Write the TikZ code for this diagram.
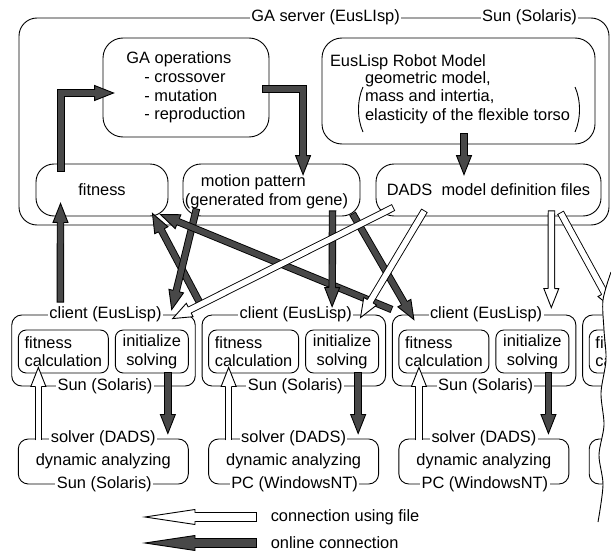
\documentclass[tikz,border=0pt]{standalone}
\usepackage{fontspec}
\setmainfont{Liberation Sans}
\usetikzlibrary{calc}
\definecolor{darkfill}{RGB}{72,72,72}
% sizes of the fat arrows
\newcommand\arrOut{7.4pt}
\newcommand\arrIn{5.6pt}
\newcommand\arrMid{3.25pt}
\newcommand\arrLen{19pt}
\newcommand\arrCut{18.5pt}
\newcommand\arrHalf{7.5pt}
% #1 fill, #2 shaft path, #3 point before tip, #4 tip
\newcommand\fatarrow[4]{%
  \draw[line width=\arrOut,shorten >=\arrCut] #2;
  \draw[line width=\arrIn,color=#1,shorten >=\arrCut,shorten <=0.9pt] #2;
  \fill[#1] let \p1=($(#4)-(#3)$), \n1={atan2(\y1,\x1)} in
    ($(#4)+(\n1:-\arrLen)+(\n1+90:\arrHalf)$) -- (#4) -- ($(#4)+(\n1:-\arrLen)+(\n1-90:\arrHalf)$) -- cycle;
  \draw let \p1=($(#4)-(#3)$), \n1={atan2(\y1,\x1)} in
    ($(#4)+(\n1:-\arrLen)+(\n1+90:\arrMid)$) -- ($(#4)+(\n1:-\arrLen)+(\n1+90:\arrHalf)$) -- (#4)
    -- ($(#4)+(\n1:-\arrLen)+(\n1-90:\arrHalf)$) -- ($(#4)+(\n1:-\arrLen)+(\n1-90:\arrMid)$);
}
\begin{document}
\begin{tikzpicture}[x=1pt,y=-1pt,line width=0.9pt,font=\fontsize{16.4}{18.6}\selectfont,
    box/.style={draw,rounded corners=#1,inner sep=0pt},
    box/.default=10pt,
    onwire/.style={fill=white,inner sep=1.5pt}]
  \useasboundingbox (0,0) rectangle (611,554);
  \fill[white] (0,0) rectangle (611,554);

  % GA server
  \node[box=18pt,minimum width=590pt,minimum height=207pt] (server) at (314,121.5) {};
  \node[onwire] (srvname) at ($(server.north west)+(307,0)$) {GA server (EusLIsp)};
  \node[onwire] (srvhost) at ($(server.north west)+(511,0)$) {Sun (Solaris)};

  \node[box=20pt,minimum width=166pt,minimum height=99pt,align=left] (gaop) at (186,87.5)
    {GA operations\\\hspace*{18pt}- crossover\\\hspace*{18pt}- mutation\\\hspace*{18pt}- reproduction};
  \node[box=20pt,minimum width=273pt,minimum height=106pt] (robot) at (458.5,91) {};
  \node[anchor=west,inner sep=0pt] (rmtitle) at ($(robot.north west)+(8,25)$) {EusLisp Robot Model};
  \node[anchor=west,inner sep=0pt,align=left] (rmitems) at ($(robot.north west)+(43,60)$)
    {geometric model,\\mass and intertia,\\elasticity of the flexible torso};
  \draw (363,87) .. controls (357,100) and (357,119) .. (363,132);
  \draw (575,87) .. controls (581,100) and (581,119) .. (575,132);

  \node[box=18pt,minimum width=132pt,minimum height=52pt] (fit) at (102,190) {fitness};
  \node[box=18pt,minimum width=177pt,minimum height=52pt] (motion) at (271.5,190) {};
  \node[align=left,inner sep=0pt] (mptext) at ($(motion)+(-5,2)$)
    {\hspace*{16pt}motion pattern\\(generated from gene)};
  \node[box=18pt,minimum width=225pt,minimum height=52pt] (dads) at (488.5,190) {DADS\ \ model definition files};

  % clients and solvers
  \foreach \i/\host in {1/Sun (Solaris),2/PC (WindowsNT),3/PC (WindowsNT)}{
    \pgfmathsetmacro\colx{(\i-1)*190.3}
    \node[box,minimum width=183.5pt,minimum height=71pt] (cl\i) at (103.5+\colx,350.5) {};
    \node[onwire] (ct\i) at ($(cl\i.north)+(2,0)$) {client (EusLisp)};
    \node[onwire] (cb\i) at ($(cl\i.south)+(1.5,0)$) {Sun (Solaris)};
    \node[box=8pt,minimum width=90pt,minimum height=43pt,align=left] (fc\i) at ($(cl\i.west)+(52,1)$) {fitness\\calculation};
    \node[box=8pt,minimum width=73pt,minimum height=43pt,align=center] (is\i) at ($(cl\i.west)+(140.5,1)$) {initialize\\solving};
    \node[box,minimum width=170pt,minimum height=45pt] (sv\i) at ($(cl\i.west)+(92,111)$) {dynamic analyzing};
    \node[onwire] (st\i) at (sv\i.north) {solver (DADS)};
    \node[onwire] (sb\i) at ($(sv\i.south)+(1,0)$) {\host};
  }
  % fourth column, torn off
  \node[box,minimum width=183.5pt,minimum height=71pt] (cl4) at (674.4,350.5) {};
  \node[box=8pt,minimum width=90pt,minimum height=43pt,align=left] (fc4) at ($(cl4.west)+(52,1)$) {fitness\\calculation};
  \node[box,minimum width=170pt,minimum height=45pt] (sv4) at ($(cl4.west)+(92,111)$) {};

  \foreach \i in {1,2,3}{
    \coordinate (fu\i) at ($(fc\i.south west)+(20.5,67)$);
    \coordinate (fut\i) at ($(fc\i.south west)+(20.5,-6)$);
    \fatarrow{white}{(fu\i) -- (fut\i)}{fu\i}{fut\i}
    \coordinate (sd\i) at ($(is\i.south west)+(53,-1)$);
    \coordinate (sdt\i) at ($(is\i.south west)+(53,60)$);
    \fatarrow{darkfill}{(sd\i) -- (sdt\i)}{sd\i}{sdt\i}
  }

  % links inside the server
  \coordinate (a1s) at ($(fit.north west)+(25.5,8)$);
  \coordinate (a1t) at ($(gaop.west)+(11,5.5)$);
  \coordinate (a1c) at (a1s |- a1t);
  \fatarrow{darkfill}{(a1s) |- (a1t)}{a1c}{a1t}
  \coordinate (a2s) at ($(gaop.east)+(-7,1.5)$);
  \coordinate (a2t) at ($(motion.north west)+(120.5,11)$);
  \coordinate (a2c) at (a2t |- a2s);
  \fatarrow{darkfill}{(a2s) -| (a2t)}{a2c}{a2t}
  \coordinate (a3s) at ($(robot.south)+(5.5,-11)$);
  \coordinate (a3t) at ($(a3s |- dads.north)+(0,11)$);
  \fatarrow{darkfill}{(a3s) -- (a3t)}{a3s}{a3t}

  % online links server <-> clients
  \coordinate (b1s) at ($(cl1.north west)+(49,-12)$);
  \coordinate (b1t) at ($(fit.south west)+(25,-13)$);
  \fatarrow{darkfill}{(b1s) -- (b1t)}{b1s}{b1t}
  \coordinate (b2s) at ($(cl1.north east)+(5,-10)$);
  \coordinate (b2t) at ($(fit.south east)+(-16,-3)$);
  \fatarrow{darkfill}{(b2s) -- (b2t)}{b2s}{b2t}
  \coordinate (b3s) at ($(motion.south west)+(14,-8)$);
  \coordinate (b3t) at ($(cl1.north east)+(-24,-5)$);
  \fatarrow{darkfill}{(b3s) -- (b3t)}{b3s}{b3t}
  \coordinate (b4s) at ($(cl3.north west)+(0,-5)$);
  \coordinate (b4t) at ($(fit.south east)+(-8,-2)$);
  \fatarrow{darkfill}{(b4s) -- (b4t)}{b4s}{b4t}
  \coordinate (b5s) at ($(motion.south west)+(150,-6)$);
  \coordinate (b5t) at ($(cl2.north west)+(130.5,-8)$);
  \fatarrow{darkfill}{(b5s) -- (b5t)}{b5s}{b5t}
  \coordinate (b6s) at ($(motion.south east)+(-8,-3)$);
  \coordinate (b6t) at ($(cl3.north west)+(22,5)$);
  \fatarrow{darkfill}{(b6s) -- (b6t)}{b6s}{b6t}

  % file links
  \coordinate (c1s) at ($(dads.south west)+(18,-9)$);
  \coordinate (c1t) at ($(cl1.north east)+(-23,4)$);
  \fatarrow{white}{(c1s) -- (c1t)}{c1s}{c1t}
  \coordinate (c2s) at ($(dads.south west)+(49,-6)$);
  \coordinate (c2t) at ($(cl2.north east)+(-25.5,3)$);
  \fatarrow{white}{(c2s) -- (c2t)}{c2s}{c2t}
  \coordinate (c3s) at ($(dads.south east)+(-50,-6)$);
  \coordinate (c3t) at ($(cl3.north east)+(-25,-7)$);
  \fatarrow{white}{(c3s) -- (c3t)}{c3s}{c3t}
  \coordinate (c4s) at ($(dads.south east)+(-41,-4)$);
  \coordinate (c4t) at ($(cl4.north west)+(31.5,-5)$);
  \fatarrow{white}{(c4s) -- (c4t)}{c4s}{c4t}

  % torn edge
  \fill[white] plot[smooth] coordinates {(611,272) (603,300) (604,330) (606,360) (601,393) (604,425) (599,455) (603,485) (598,522)}
    -- (620,522) -- (620,272) -- cycle;
  \draw plot[smooth] coordinates {(611,272) (603,300) (604,330) (606,360) (601,393) (604,425) (599,455) (603,485) (598,522)};

  % legend
  \begin{scope}
    \renewcommand\arrOut{9.3pt}\renewcommand\arrIn{7.5pt}\renewcommand\arrMid{4.2pt}
    \renewcommand\arrLen{50pt}\renewcommand\arrCut{49.5pt}\renewcommand\arrHalf{7.5pt}
    \node[anchor=west] (lgfile) at (267,517) {connection using file};
    \node[anchor=west] (lgonline) at (267,543) {online connection};
    \coordinate (lfs) at ($(lgfile.west)+(-10,0)$);
    \coordinate (lft) at ($(lgfile.west)+(-122,0)$);
    \fatarrow{white}{(lfs) -- (lft)}{lfs}{lft}
    \coordinate (los) at ($(lgonline.west)+(-10,0)$);
    \coordinate (lot) at ($(lgonline.west)+(-122,0)$);
    \fatarrow{darkfill}{(los) -- (lot)}{los}{lot}
  \end{scope}
\end{tikzpicture}
\end{document}
